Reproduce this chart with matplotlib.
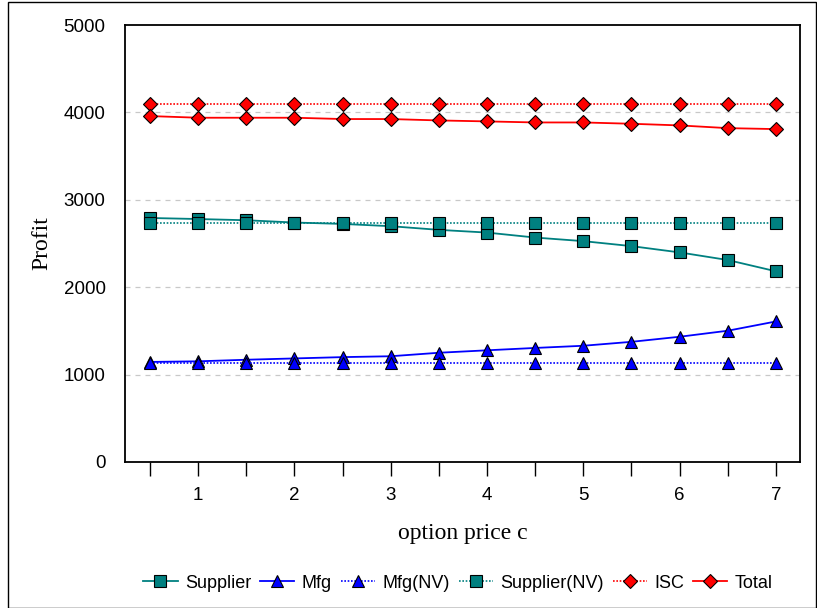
import matplotlib
matplotlib.use("Agg")
import matplotlib.pyplot as plt
from matplotlib.patches import Rectangle

c = [0.5, 1, 1.5, 2, 2.5, 3, 3.5, 4, 4.5, 5, 5.5, 6, 6.5, 7]
supplier = [2792, 2780, 2766, 2740, 2724, 2698, 2656, 2625, 2568, 2527, 2470, 2398, 2311, 2182]
mfg = [1145, 1152, 1170, 1185, 1200, 1210, 1250, 1278, 1305, 1330, 1375, 1433, 1502, 1608]
mfg_nv = [1133] * 14
supplier_nv = [2735] * 14
isc = [4100] * 14
total = [3958, 3939, 3939, 3939, 3924, 3924, 3908, 3897, 3885, 3885, 3870, 3851, 3820, 3809]

yticks = [0, 1000, 2000, 3000, 4000, 5000]
xticklabels = ["1", "2", "3", "4", "5", "6", "7"]

fig = plt.figure(figsize=(8.17, 6.08), dpi=100)
ax = fig.add_axes([125/817, 1 - 462/608, 675/817, 437/608])

teal = "#008080"
blue = "#0000FF"
red = "#FF0000"
mk = dict(markeredgecolor="black", markeredgewidth=0.8)

ax.plot(c, supplier, color=teal, lw=1.3, ls="-", marker="s", markersize=9, markerfacecolor=teal, label="Supplier", **mk)
ax.plot(c, mfg, color=blue, lw=1.3, ls="-", marker="^", markersize=9, markerfacecolor=blue, label="Mfg", **mk)
ax.plot(c, mfg_nv, color=blue, lw=1.2, ls=(0, (1, 1)), marker="^", markersize=9, markerfacecolor=blue, label="Mfg(NV)", **mk)
ax.plot(c, supplier_nv, color=teal, lw=1.2, ls=(0, (1, 1)), marker="s", markersize=9, markerfacecolor=teal, label="Supplier(NV)", **mk)
ax.plot(c, isc, color=red, lw=1.2, ls=(0, (1, 1)), marker="D", markersize=7, markerfacecolor=red, label="ISC", **mk)
ax.plot(c, total, color=red, lw=1.3, ls="-", marker="D", markersize=7, markerfacecolor=red, label="Total", **mk)

ax.set_xlim(0.24, 7.25)
ax.set_ylim(0, 5000)
ax.set_yticks(yticks)
ax.set_yticklabels([str(v) for v in yticks], fontsize=13.5, family="Liberation Sans")
ax.tick_params(axis="y", length=0, pad=14)
ax.set_xticks(c)
ax.set_xticklabels([str(int(v)) if float(v).is_integer() else "" for v in c], fontsize=13.5, family="Liberation Sans")
ax.tick_params(axis="x", length=10, direction="out", width=1, pad=8)

for y in yticks[1:-1]:
    ax.axhline(y, color="#c8c8c8", lw=0.9, ls=(0, (4, 4)), zorder=0)

for s in ax.spines.values():
    s.set_linewidth(1.3)

ax.set_ylabel("Profit", fontsize=17, family="Liberation Serif", labelpad=8)
ax.set_xlabel("option price c", fontsize=17, family="Liberation Serif", labelpad=14)

leg = fig.legend(loc="center", bbox_to_anchor=(458/817, 1 - 583/608), ncol=6, frameon=False,
                 prop={"family": "Liberation Sans", "size": 13}, handlelength=1.9,
                 columnspacing=0.5, handletextpad=0.4)

fig.patches.append(Rectangle((8/817, 0), 1 - 8/817 - 1/817, 1 - 2/608, transform=fig.transFigure,
                             fill=False, edgecolor="black", lw=1.0))

fig.savefig("out.png", dpi=100)
